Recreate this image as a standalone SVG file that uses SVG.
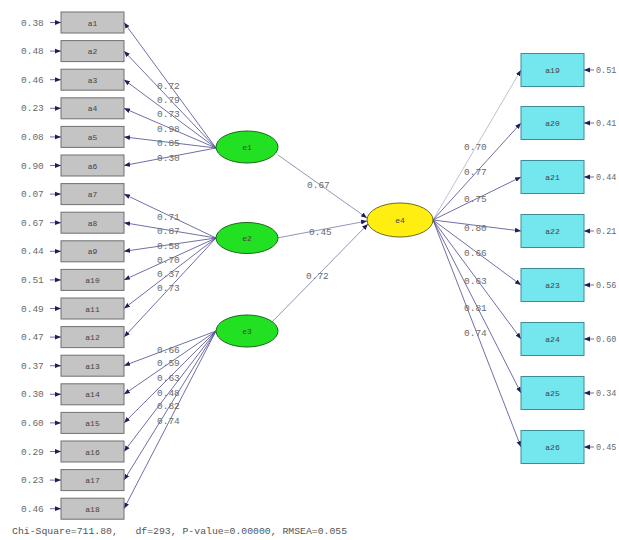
<svg xmlns="http://www.w3.org/2000/svg" width="619" height="540" viewBox="0 0 619 540">
<style>
.bg{fill:#ffffff}
.obs{fill:#c4c4c4;stroke:#707070;stroke-width:1}
.obs2{fill:#74e6ee;stroke:#3c8c98;stroke-width:1}
.lat{fill:#22e022;stroke:#1a6a1a;stroke-width:1}
.lat2{fill:#ffee10;stroke:#6a6a20;stroke-width:1}
.ln{stroke:#4a4a8e;stroke-width:0.8;fill:none}
.ln2{stroke:#7a7aa8;stroke-width:0.8;fill:none}
.t{font-family:"Liberation Mono",monospace;font-size:9.5px;fill:#6a6a6a}
.tr{font-family:"Liberation Mono",monospace;font-size:8.5px;fill:#6a6a6a}
.tb{font-family:"Liberation Mono",monospace;font-size:8px;fill:#444;text-anchor:middle}
.ft{font-family:"Liberation Mono",monospace;font-size:9.8px;fill:#555}
</style>
<defs>
<marker id="ah" viewBox="0 0 10 10" refX="10" refY="5" markerWidth="6" markerHeight="6" orient="auto" markerUnits="userSpaceOnUse">
<path d="M0,1 L10,5 L0,9 Z" fill="#1e1e5a"/>
</marker>
</defs>
<rect class="bg" x="0" y="0" width="619" height="540"/>

<g id="connectors">
<g class="ln" marker-end="url(#ah)">
<line x1="50" y1="22.5" x2="61" y2="22.5"/>
<line x1="50" y1="51.1" x2="61" y2="51.1"/>
<line x1="50" y1="79.7" x2="61" y2="79.7"/>
<line x1="50" y1="108.3" x2="61" y2="108.3"/>
<line x1="50" y1="136.9" x2="61" y2="136.9"/>
<line x1="50" y1="165.5" x2="61" y2="165.5"/>
<line x1="50" y1="194.1" x2="61" y2="194.1"/>
<line x1="50" y1="222.7" x2="61" y2="222.7"/>
<line x1="50" y1="251.3" x2="61" y2="251.3"/>
<line x1="50" y1="279.9" x2="61" y2="279.9"/>
<line x1="50" y1="308.5" x2="61" y2="308.5"/>
<line x1="50" y1="337.1" x2="61" y2="337.1"/>
<line x1="50" y1="365.7" x2="61" y2="365.7"/>
<line x1="50" y1="394.3" x2="61" y2="394.3"/>
<line x1="50" y1="422.9" x2="61" y2="422.9"/>
<line x1="50" y1="451.5" x2="61" y2="451.5"/>
<line x1="50" y1="480.1" x2="61" y2="480.1"/>
<line x1="50" y1="508.7" x2="61" y2="508.7"/>
</g>
<g class="ln" marker-end="url(#ah)">
<line x1="216" y1="148" x2="124" y2="22.5"/>
<line x1="216" y1="148" x2="124" y2="51.1"/>
<line x1="216" y1="148" x2="124" y2="79.7"/>
<line x1="216" y1="148" x2="124" y2="108.3"/>
<line x1="216" y1="148" x2="124" y2="136.9"/>
<line x1="216" y1="148" x2="124" y2="165.5"/>
<line x1="216" y1="238" x2="124" y2="194.1"/>
<line x1="216" y1="238" x2="124" y2="222.7"/>
<line x1="216" y1="238" x2="124" y2="251.3"/>
<line x1="216" y1="238" x2="124" y2="279.9"/>
<line x1="216" y1="238" x2="124" y2="308.5"/>
<line x1="216" y1="238" x2="124" y2="337.1"/>
<line x1="216" y1="331" x2="124" y2="365.7"/>
<line x1="216" y1="331" x2="124" y2="394.3"/>
<line x1="216" y1="331" x2="124" y2="422.9"/>
<line x1="216" y1="331" x2="124" y2="451.5"/>
<line x1="216" y1="331" x2="124" y2="480.1"/>
<line x1="216" y1="331" x2="124" y2="508.7"/>
</g>
<g class="ln2" marker-end="url(#ah)">
<line x1="278" y1="155" x2="367" y2="218"/>
<line x1="277" y1="238" x2="367" y2="221"/>
<line x1="272" y1="322" x2="368" y2="224"/>
</g>
<g class="ln" marker-end="url(#ah)">
<line x1="433" y1="220" x2="521" y2="70" stroke="#b0b0c8"/>
<line x1="433" y1="220" x2="521" y2="123"/>
<line x1="433" y1="220" x2="521" y2="177"/>
<line x1="433" y1="220" x2="521" y2="231"/>
<line x1="433" y1="220" x2="521" y2="285"/>
<line x1="433" y1="220" x2="521" y2="339"/>
<line x1="433" y1="220" x2="521" y2="393"/>
<line x1="433" y1="220" x2="521" y2="447"/>
</g>
<g class="ln" marker-end="url(#ah)">
<line x1="594" y1="70" x2="584" y2="70"/>
<line x1="594" y1="123" x2="584" y2="123"/>
<line x1="594" y1="177" x2="584" y2="177"/>
<line x1="594" y1="231" x2="584" y2="231"/>
<line x1="594" y1="285" x2="584" y2="285"/>
<line x1="594" y1="339" x2="584" y2="339"/>
<line x1="594" y1="393" x2="584" y2="393"/>
<line x1="594" y1="447" x2="584" y2="447"/>
</g>
</g>

<g id="labels">
<g class="t">
<text x="21" y="25.5">0.38</text>
<text x="21" y="54.1">0.48</text>
<text x="21" y="82.7">0.46</text>
<text x="21" y="111.3">0.23</text>
<text x="21" y="139.9">0.08</text>
<text x="21" y="168.5">0.90</text>
<text x="21" y="197.1">0.07</text>
<text x="21" y="225.7">0.67</text>
<text x="21" y="254.3">0.44</text>
<text x="21" y="282.9">0.51</text>
<text x="21" y="311.5">0.49</text>
<text x="21" y="340.1">0.47</text>
<text x="21" y="368.7">0.37</text>
<text x="21" y="397.3">0.30</text>
<text x="21" y="425.9">0.60</text>
<text x="21" y="454.5">0.29</text>
<text x="21" y="483.1">0.23</text>
<text x="21" y="511.7">0.46</text>

<text x="157" y="89">0.72</text>
<text x="157" y="103">0.79</text>
<text x="157" y="117">0.73</text>
<text x="157" y="132">0.98</text>
<text x="157" y="146">0.85</text>
<text x="157" y="161">0.30</text>
<text x="157" y="220">0.71</text>
<text x="157" y="234">0.87</text>
<text x="157" y="249">0.58</text>
<text x="157" y="263">0.70</text>
<text x="157" y="277">0.37</text>
<text x="157" y="291">0.73</text>
<text x="157" y="353">0.66</text>
<text x="157" y="366">0.59</text>
<text x="157" y="381">0.63</text>
<text x="157" y="396">0.48</text>
<text x="157" y="409">0.82</text>
<text x="157" y="424">0.74</text>

<text x="307" y="188">0.67</text>
<text x="309" y="235">0.45</text>
<text x="306" y="279">0.72</text>

<text x="464" y="150">0.70</text>
<text x="464" y="175">0.77</text>
<text x="464" y="202">0.75</text>
<text x="464" y="231">0.80</text>
<text x="464" y="256">0.66</text>
<text x="464" y="284">0.63</text>
<text x="464" y="311">0.81</text>
<text x="464" y="336">0.74</text>
</g>
<g class="tr">
<text x="596" y="73">0.51</text>
<text x="596" y="126">0.41</text>
<text x="596" y="180">0.44</text>
<text x="596" y="234">0.21</text>
<text x="596" y="288">0.56</text>
<text x="596" y="342">0.60</text>
<text x="596" y="396">0.34</text>
<text x="596" y="450">0.45</text>
</g>
<text class="ft" x="12" y="534" xml:space="preserve">Chi-Square=711.80,   df=293, P-value=0.00000, RMSEA=0.055</text>
</g>

<g id="a1"><rect class="obs" x="61" y="12" width="63" height="21"/><text class="tb" x="92.5" y="25.5">a1</text></g>
<g id="a2"><rect class="obs" x="61" y="40.6" width="63" height="21"/><text class="tb" x="92.5" y="54.1">a2</text></g>
<g id="a3"><rect class="obs" x="61" y="69.2" width="63" height="21"/><text class="tb" x="92.5" y="82.7">a3</text></g>
<g id="a4"><rect class="obs" x="61" y="97.8" width="63" height="21"/><text class="tb" x="92.5" y="111.3">a4</text></g>
<g id="a5"><rect class="obs" x="61" y="126.4" width="63" height="21"/><text class="tb" x="92.5" y="139.9">a5</text></g>
<g id="a6"><rect class="obs" x="61" y="155" width="63" height="21"/><text class="tb" x="92.5" y="168.5">a6</text></g>
<g id="a7"><rect class="obs" x="61" y="183.6" width="63" height="21"/><text class="tb" x="92.5" y="197.1">a7</text></g>
<g id="a8"><rect class="obs" x="61" y="212.2" width="63" height="21"/><text class="tb" x="92.5" y="225.7">a8</text></g>
<g id="a9"><rect class="obs" x="61" y="240.8" width="63" height="21"/><text class="tb" x="92.5" y="254.3">a9</text></g>
<g id="a10"><rect class="obs" x="61" y="269.4" width="63" height="21"/><text class="tb" x="92.5" y="282.9">a10</text></g>
<g id="a11"><rect class="obs" x="61" y="298" width="63" height="21"/><text class="tb" x="92.5" y="311.5">a11</text></g>
<g id="a12"><rect class="obs" x="61" y="326.6" width="63" height="21"/><text class="tb" x="92.5" y="340.1">a12</text></g>
<g id="a13"><rect class="obs" x="61" y="355.2" width="63" height="21"/><text class="tb" x="92.5" y="368.7">a13</text></g>
<g id="a14"><rect class="obs" x="61" y="383.8" width="63" height="21"/><text class="tb" x="92.5" y="397.3">a14</text></g>
<g id="a15"><rect class="obs" x="61" y="412.4" width="63" height="21"/><text class="tb" x="92.5" y="425.9">a15</text></g>
<g id="a16"><rect class="obs" x="61" y="441" width="63" height="21"/><text class="tb" x="92.5" y="454.5">a16</text></g>
<g id="a17"><rect class="obs" x="61" y="469.6" width="63" height="21"/><text class="tb" x="92.5" y="483.1">a17</text></g>
<g id="a18"><rect class="obs" x="61" y="498.2" width="63" height="21"/><text class="tb" x="92.5" y="511.7">a18</text></g>

<g id="e1"><ellipse class="lat" cx="247" cy="147" rx="31" ry="16"/><text class="tb" x="247" y="150">e1</text></g>
<g id="e2"><ellipse class="lat" cx="247" cy="238" rx="31" ry="15.5"/><text class="tb" x="247" y="241">e2</text></g>
<g id="e3"><ellipse class="lat" cx="247" cy="331" rx="31" ry="16"/><text class="tb" x="247" y="334">e3</text></g>
<g id="e4"><ellipse class="lat2" cx="400" cy="220" rx="33" ry="17"/><text class="tb" x="400" y="223">e4</text></g>

<g id="a19"><rect class="obs2" x="521" y="53.5" width="63" height="33"/><text class="tb" x="552.5" y="73">a19</text></g>
<g id="a20"><rect class="obs2" x="521" y="106.5" width="63" height="33"/><text class="tb" x="552.5" y="126">a20</text></g>
<g id="a21"><rect class="obs2" x="521" y="160.5" width="63" height="33"/><text class="tb" x="552.5" y="180">a21</text></g>
<g id="a22"><rect class="obs2" x="521" y="214.5" width="63" height="33"/><text class="tb" x="552.5" y="234">a22</text></g>
<g id="a23"><rect class="obs2" x="521" y="268.5" width="63" height="33"/><text class="tb" x="552.5" y="288">a23</text></g>
<g id="a24"><rect class="obs2" x="521" y="322.5" width="63" height="33"/><text class="tb" x="552.5" y="342">a24</text></g>
<g id="a25"><rect class="obs2" x="521" y="376.5" width="63" height="33"/><text class="tb" x="552.5" y="396">a25</text></g>
<g id="a26"><rect class="obs2" x="521" y="430.5" width="63" height="33"/><text class="tb" x="552.5" y="450">a26</text></g>
</svg>
